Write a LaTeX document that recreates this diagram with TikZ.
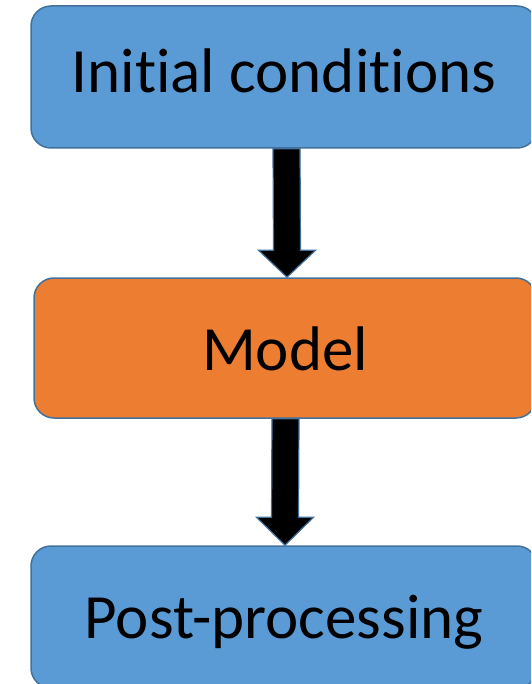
\documentclass[tikz,border=0pt]{standalone}
\usepackage{fontspec}
\setmainfont{Carlito}[Ligatures={NoCommon,NoContextual}]
\usetikzlibrary{calc}
\definecolor{boxblue}{HTML}{5B9BD5}
\definecolor{boxorange}{HTML}{ED7D31}
\definecolor{edgeblue}{HTML}{41719C}
\begin{document}
\begin{tikzpicture}[x=1pt,y=1pt,
  box/.style={draw=edgeblue, line width=1.5pt, rounded corners=20pt,
    minimum width=506pt, minimum height=142pt, inner sep=0pt,
    font=\fontsize{63}{70}\selectfont, text depth=0pt},
  flowarrow/.style={fill=black, draw=edgeblue, line width=1.2pt, line join=miter}]
\useasboundingbox (0,0) rectangle (531,-684);
\clip (0,0) rectangle (531,-684);
\node[box, fill=boxblue, text height=32pt] (ic) at (284,-77) {Initial conditions};
\node[box, fill=boxorange, minimum height=140pt, minimum width=502pt, text height=44pt] (mo) at (285,-348) {Model};
\node[box, fill=boxblue, text height=42pt] (pp) at (284,-617) {Post-processing};
\coordinate (t1) at ($(ic.south)+(2.5,0)$);
\coordinate (h1) at ($(mo.north)+(2,0)$);
\draw[flowarrow] ($(t1)+(-13.5,0)$) -- ($(t1)+(13.5,0)$) -- ($(h1)+(13.5,27)$) -- ($(h1)+(28.5,27)$) -- (h1) -- ($(h1)+(-28.5,27)$) -- ($(h1)+(-13.5,27)$) -- cycle;
\coordinate (t2) at ($(mo.south)+(0.5,0)$);
\coordinate (h2) at ($(pp.north)+(1,0)$);
\draw[flowarrow] ($(t2)+(-13.5,0)$) -- ($(t2)+(13.5,0)$) -- ($(h2)+(13.5,28)$) -- ($(h2)+(28.5,28)$) -- (h2) -- ($(h2)+(-28.5,28)$) -- ($(h2)+(-13.5,28)$) -- cycle;
\end{tikzpicture}
\end{document}
